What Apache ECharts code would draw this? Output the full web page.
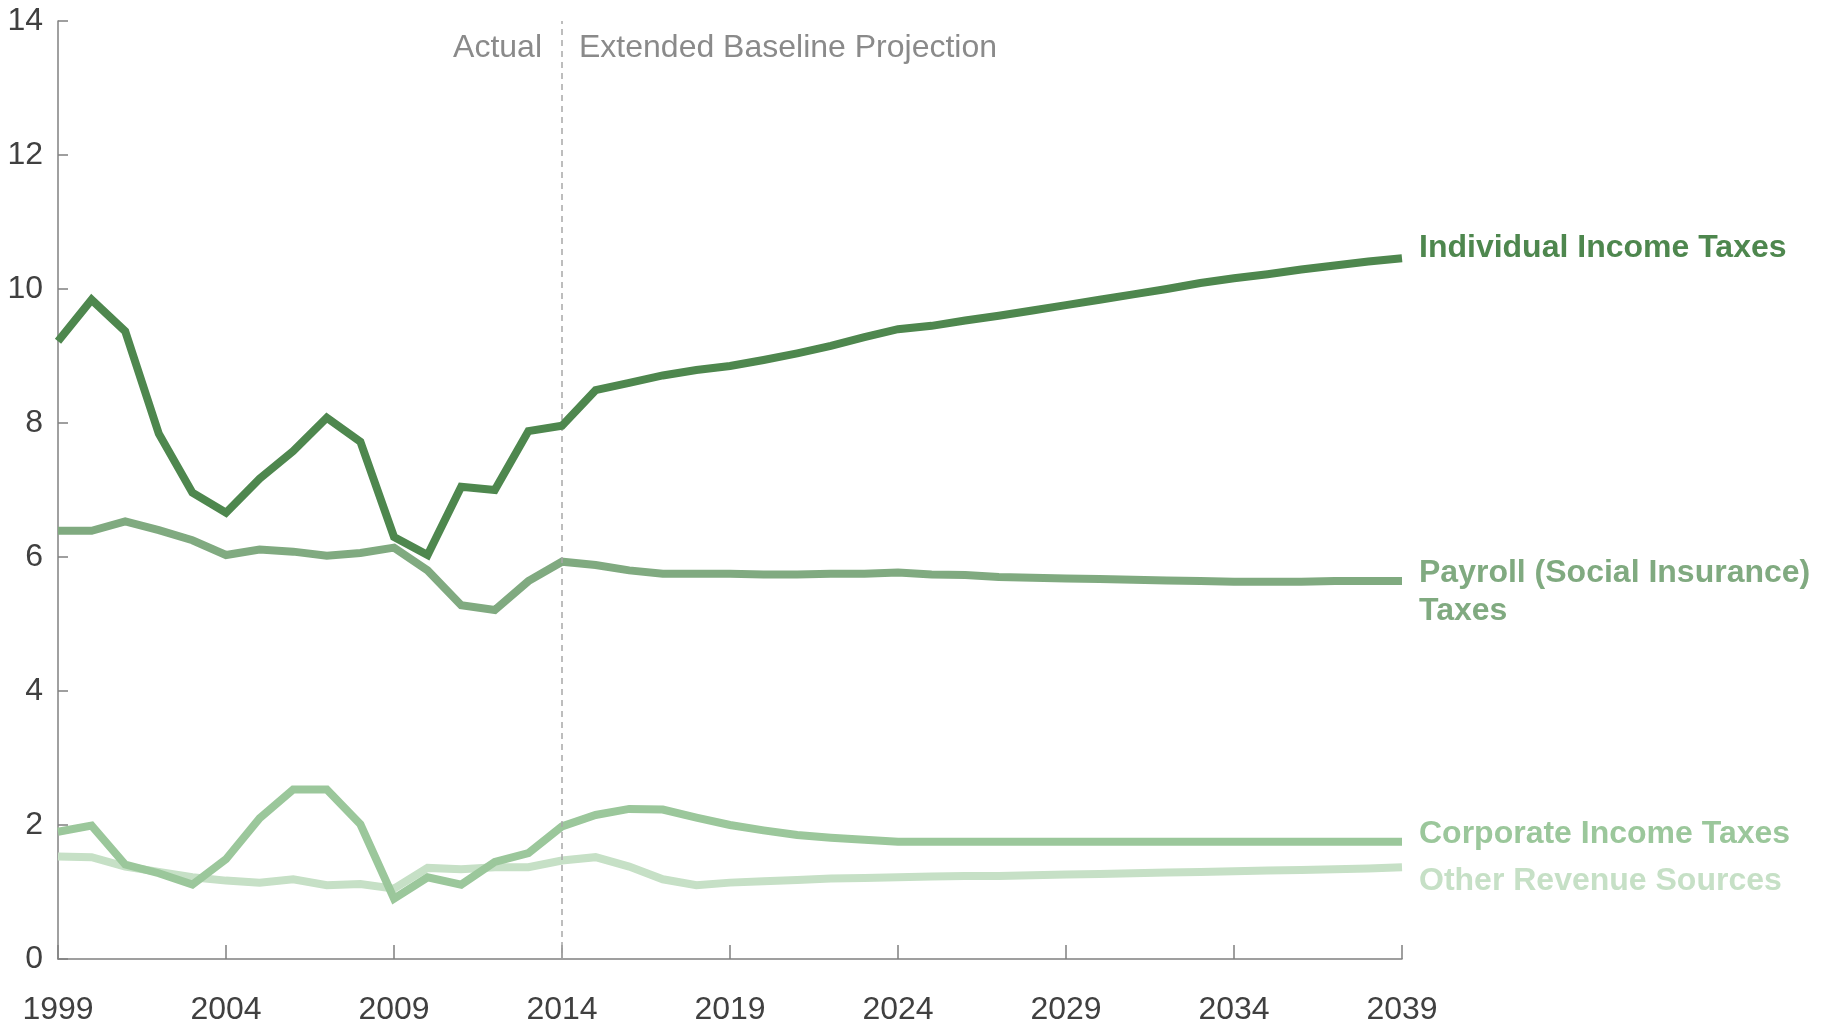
<!DOCTYPE html>
<html>
<head>
<meta charset="utf-8">
<script src="https://cdn.jsdelivr.net/npm/echarts@6/dist/echarts.min.js"></script>
<style>
  html, body { margin: 0; padding: 0; background: #fff; }
  #chart { width: 1821px; height: 1026px; }
</style>
</head>
<body>
<div id="chart"></div>
<script>
// years 1999 - 2039
const years = []
for (let y = 1999; y <= 2039; y++) years.push(y)

const individualIncome = [
  9.22, 9.84, 9.37, 7.84, 6.96, 6.66, 7.17, 7.58, 8.08, 7.72,
  6.30, 6.03, 7.05, 7.00, 7.88, 7.96, 8.49, 8.60, 8.71, 8.79,
  8.85, 8.94, 9.04, 9.15, 9.28, 9.40, 9.45, 9.53, 9.60, 9.68,
  9.76, 9.84, 9.92, 10.00, 10.09, 10.16, 10.22, 10.29, 10.35, 10.41,
  10.46
]
const payroll = [
  6.39, 6.39, 6.53, 6.40, 6.25, 6.03, 6.11, 6.08, 6.02, 6.06,
  6.14, 5.80, 5.28, 5.21, 5.64, 5.93, 5.88, 5.80, 5.75, 5.75,
  5.75, 5.74, 5.74, 5.75, 5.75, 5.77, 5.74, 5.73, 5.70, 5.69,
  5.68, 5.67, 5.66, 5.65, 5.64, 5.63, 5.63, 5.63, 5.64, 5.64,
  5.64
]
const corporate = [
  1.90, 1.99, 1.41, 1.28, 1.11, 1.49, 2.10, 2.53, 2.53, 2.01,
  0.90, 1.22, 1.11, 1.45, 1.58, 1.98, 2.15, 2.24, 2.23, 2.11,
  2.00, 1.92, 1.85, 1.81, 1.78, 1.75, 1.75, 1.75, 1.75, 1.75,
  1.75, 1.75, 1.75, 1.75, 1.75, 1.75, 1.75, 1.75, 1.75, 1.75,
  1.75
]
const otherRevenue = [
  1.53, 1.52, 1.38, 1.30, 1.22, 1.17, 1.14, 1.19, 1.10, 1.12,
  1.05, 1.36, 1.34, 1.37, 1.37, 1.47, 1.52, 1.38, 1.19, 1.10,
  1.14, 1.16, 1.18, 1.20, 1.21, 1.22, 1.23, 1.24, 1.24, 1.25,
  1.26, 1.27, 1.28, 1.29, 1.30, 1.31, 1.32, 1.33, 1.34, 1.35,
  1.37
]
const xTicks = [1999, 2004, 2009, 2014, 2019, 2024, 2029, 2034, 2039]
const yTicks = [0, 2, 4, 6, 8, 10, 12, 14]
const splitYear = 2014

const font = 'Liberation Sans, Arial, sans-serif'
const axisGray = '#808080'
const textDark = '#404040'

// 组装 [year, value] 数据
const pairs = arr => years.map((y, i) => [y, arr[i]])

// 折线系列
const makeSeries = (name, values, color, labelText, dy, z) => ({
  name,
  type: 'line',
  data: pairs(values),
  showSymbol: false,
  symbol: 'none',
  z,
  lineStyle: { color, width: 8, cap: 'butt', join: 'miter' },
  endLabel: {
    show: true,
    formatter: labelText,
    color,
    fontFamily: font,
    fontSize: 32,
    fontWeight: 'bold',
    lineHeight: 38,
    distance: 17,
    offset: [0, dy],
    align: 'left',
    verticalAlign: 'middle'
  },
  emphasis: { disabled: true }
})

const chart = echarts.init(document.getElementById('chart'))

const option = {
  animation: false,
  grid: { left: 58, right: 419, top: 21, bottom: 67, containLabel: false },
  xAxis: {
    type: 'value',
    min: xTicks[0],
    max: xTicks[xTicks.length - 1],
    interval: 5,
    axisLine: { show: true, lineStyle: { color: axisGray, width: 1.5 } },
    axisTick: { show: true, inside: true, length: 14, lineStyle: { color: axisGray, width: 1.5 } },
    axisLabel: {
      color: textDark,
      fontFamily: font,
      fontSize: 32,
      margin: 35,
      formatter: v => String(v)
    },
    splitLine: { show: false }
  },
  yAxis: {
    type: 'value',
    min: yTicks[0],
    max: yTicks[yTicks.length - 1],
    interval: 2,
    axisLine: { show: true, lineStyle: { color: axisGray, width: 1.5 } },
    axisTick: { show: true, inside: true, length: 10, lineStyle: { color: axisGray, width: 1.5 } },
    axisLabel: { color: textDark, fontFamily: font, fontSize: 32, margin: 15 },
    splitLine: { show: false }
  },
  series: [
    Object.assign(makeSeries('Individual Income Taxes', individualIncome, '#4e874e', 'Individual Income Taxes', -10, 5), {
      markLine: {
        silent: true,
        symbol: ['none', 'none'],
        label: { show: false },
        lineStyle: { color: '#a8a8a8', width: 1.5, type: [6, 5] },
        data: [{ xAxis: splitYear }]
      }
    }),
    makeSeries('Payroll', payroll, '#80aa80', 'Payroll (Social Insurance)\nTaxes', 11, 4),
    makeSeries('Corporate Income Taxes', corporate, '#9bc79b', 'Corporate Income Taxes', -8, 3),
    makeSeries('Other Revenue Sources', otherRevenue, '#c6e0c6', 'Other Revenue Sources', 14, 2)
  ]
}
chart.setOption(option)

// 区间注释文字
const splitX = chart.convertToPixel({ xAxisIndex: 0 }, splitYear)
chart.setOption({
  graphic: [
    {
      type: 'text',
      style: { text: 'Actual', x: splitX - 20, y: 48, align: 'right', verticalAlign: 'middle', font: '32px ' + font, fill: '#8a8a8a' }
    },
    {
      type: 'text',
      style: { text: 'Extended Baseline Projection', x: splitX + 17, y: 48, align: 'left', verticalAlign: 'middle', font: '32px ' + font, fill: '#8a8a8a' }
    }
  ]
})
</script>
</body>
</html>
